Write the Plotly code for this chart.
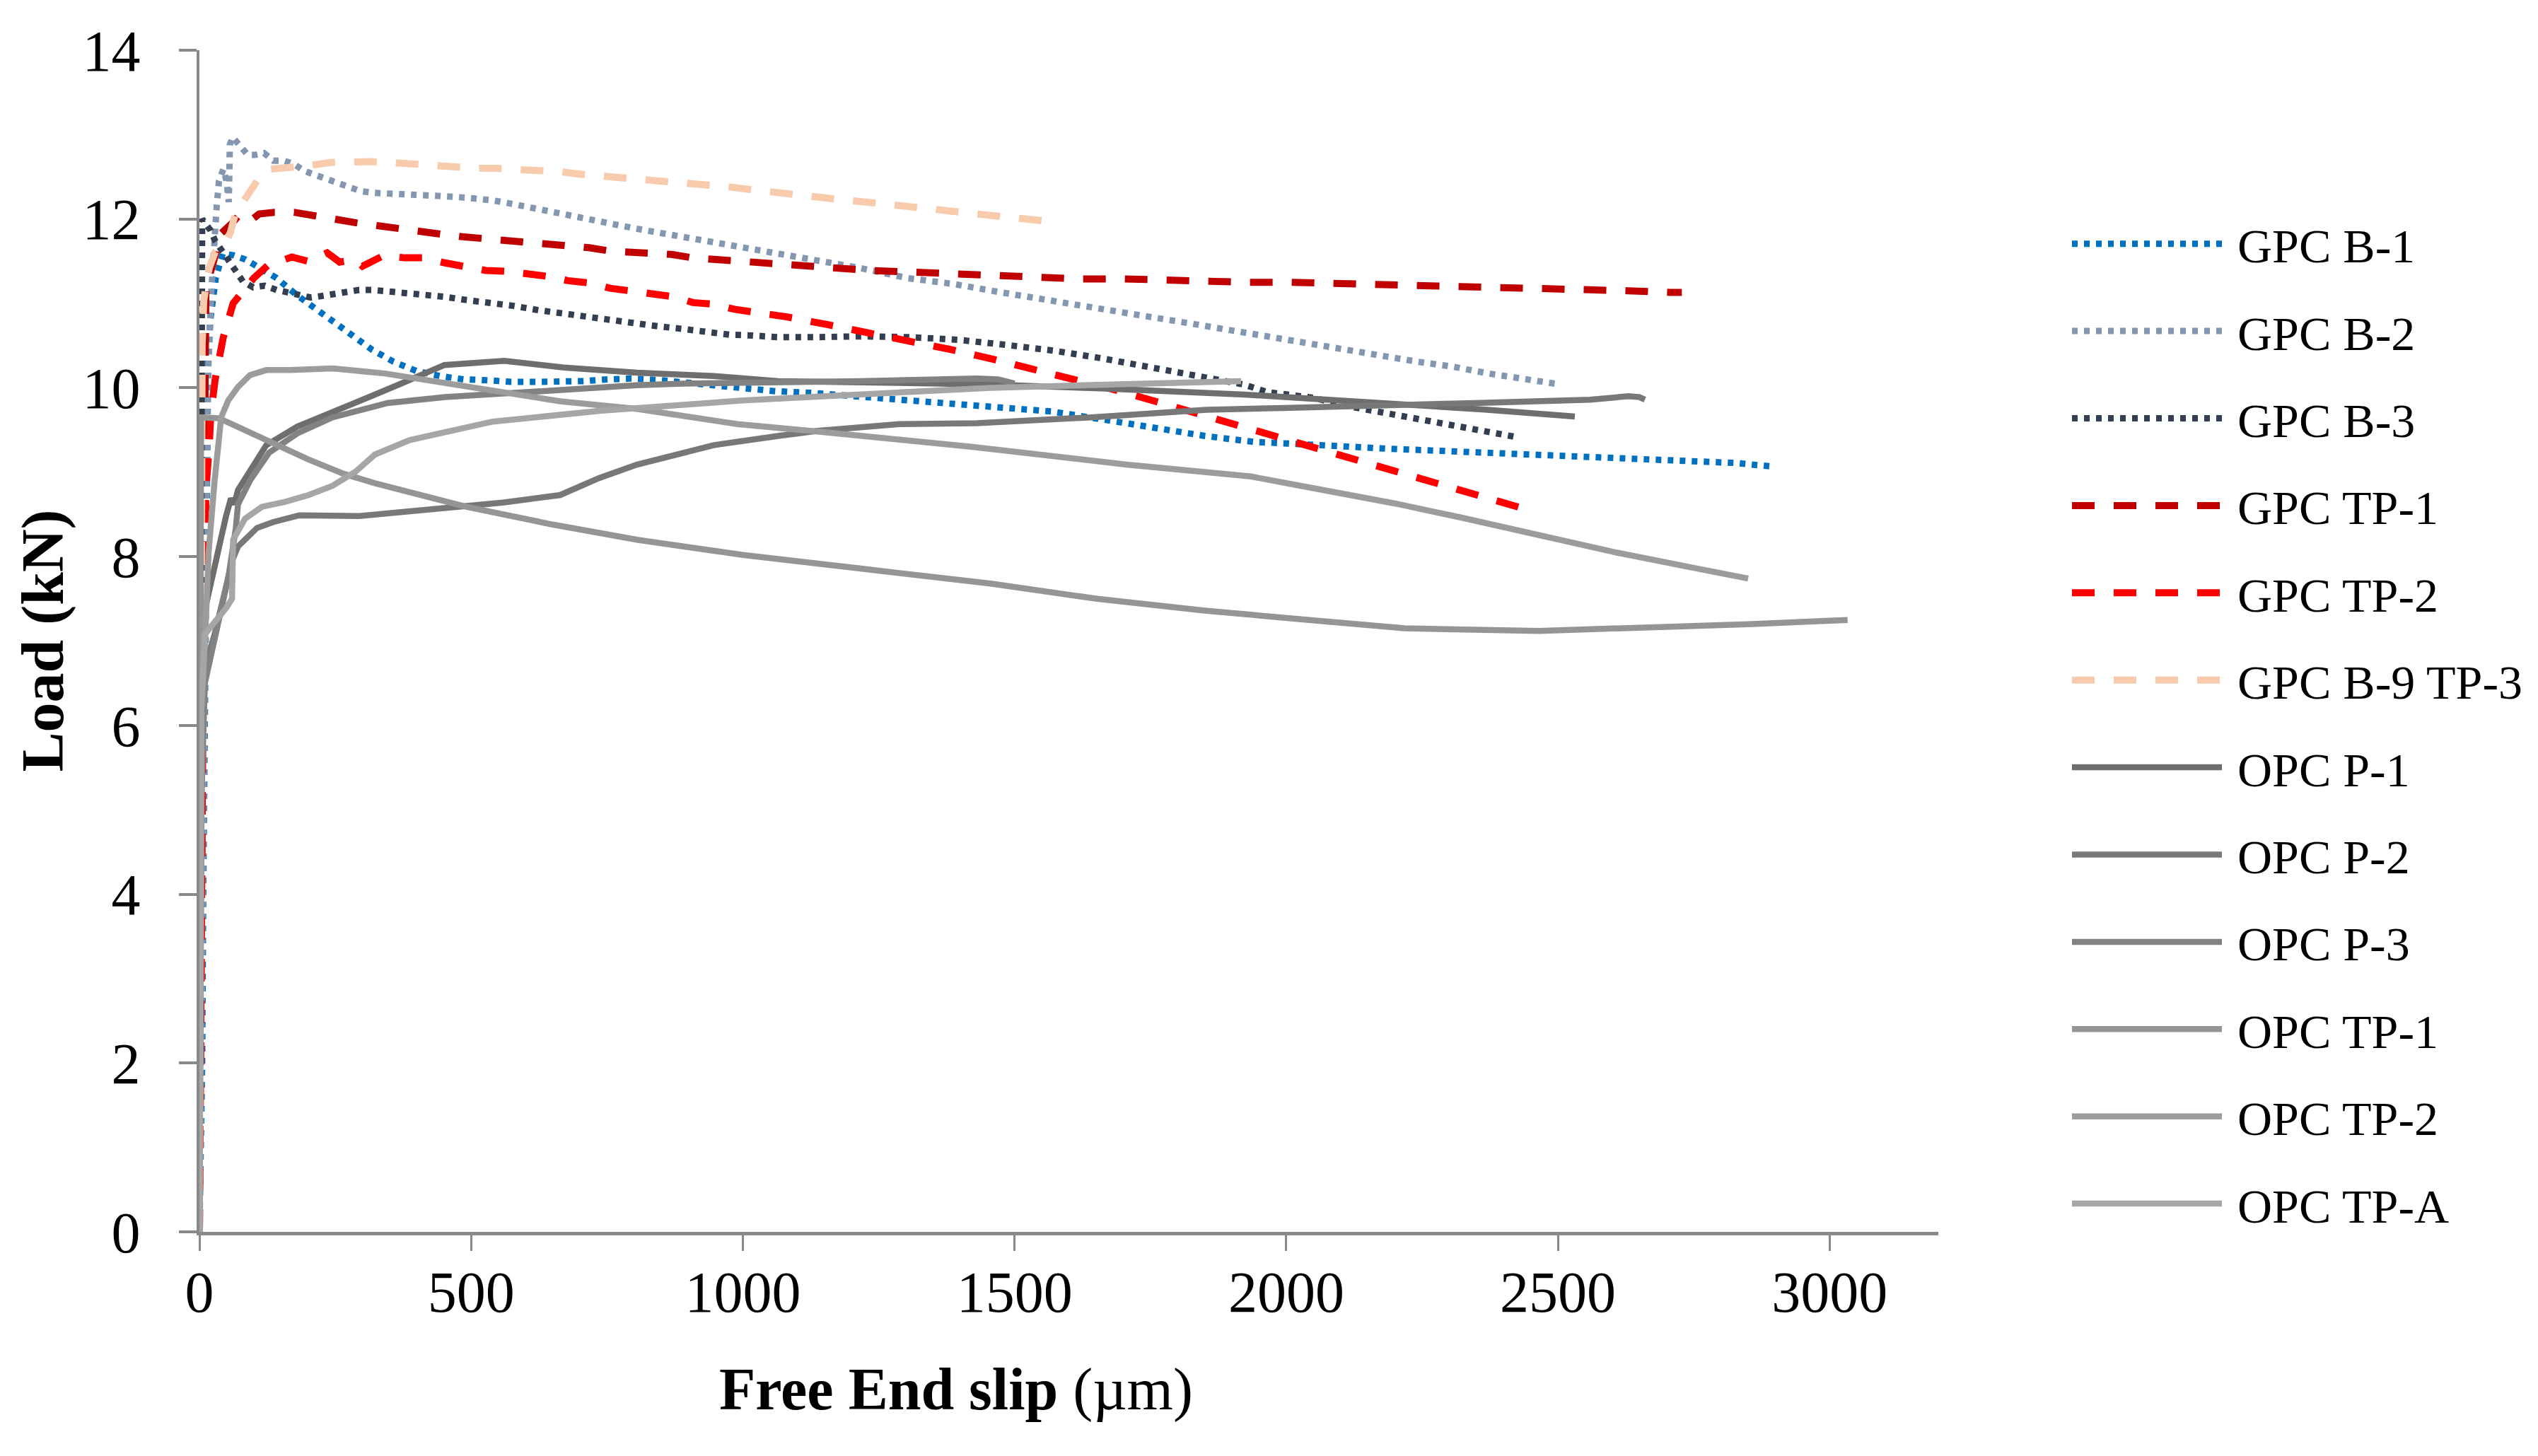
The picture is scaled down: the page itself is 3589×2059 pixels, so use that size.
import plotly.graph_objects as go

# ---------------- data ----------------
gpc_b1_x = [0, 5, 7, 9, 11, 14, 16, 20, 30, 43, 63, 85, 105, 142, 177, 211, 246, 282, 318, 357, 399, 442, 486, 530, 574, 620, 663, 706, 752, 795, 850, 900, 950, 996, 1060, 1127, 1212, 1303, 1392, 1480, 1568, 1677, 1766, 1850, 1939, 2030, 2095, 2183, 2294, 2405, 2516, 2626, 2737, 2825, 2892]
gpc_b1_y = [0, 2, 4, 6, 8, 9.3, 10.3, 10.8, 11.3, 11.59, 11.57, 11.52, 11.45, 11.30, 11.11, 10.95, 10.77, 10.60, 10.45, 10.31, 10.20, 10.14, 10.10, 10.09, 10.07, 10.07, 10.07, 10.08, 10.10, 10.11, 10.09, 10.06, 10.03, 10.01, 9.96, 9.94, 9.90, 9.85, 9.81, 9.77, 9.72, 9.61, 9.51, 9.43, 9.36, 9.32, 9.31, 9.28, 9.25, 9.22, 9.20, 9.17, 9.14, 9.11, 9.07]

gpc_b2_x = [0, 5, 10, 15, 22, 29, 32, 36, 44, 50, 54, 55, 56, 61, 75, 89, 103, 119, 136, 156, 174, 193, 214, 235, 255, 276, 297, 320, 363, 407, 452, 496, 541, 583, 627, 670, 714, 757, 800, 844, 889, 931, 975, 1018, 1063, 1127, 1215, 1303, 1388, 1476, 1565, 1653, 1740, 1826, 1914, 2001, 2044, 2110, 2176, 2241, 2307, 2372, 2438, 2504]
gpc_b2_y = [0, 4, 8, 10, 11.16, 12.0, 12.17, 12.45, 12.59, 12.45, 12.2, 12.5, 12.88, 12.97, 12.87, 12.76, 12.76, 12.78, 12.69, 12.69, 12.65, 12.57, 12.52, 12.47, 12.41, 12.36, 12.33, 12.31, 12.30, 12.29, 12.27, 12.25, 12.22, 12.17, 12.11, 12.06, 12.01, 11.95, 11.89, 11.84, 11.79, 11.73, 11.69, 11.64, 11.59, 11.51, 11.42, 11.30, 11.23, 11.13, 11.03, 10.94, 10.85, 10.76, 10.66, 10.57, 10.52, 10.45, 10.38, 10.31, 10.25, 10.17, 10.10, 10.04]

gpc_b3_x = [0, 1, 2, 3, 5, 20, 29, 43, 55, 66, 80, 99, 120, 142, 163, 184, 205, 228, 250, 272, 294, 317, 338, 361, 404, 449, 492, 536, 579, 624, 667, 711, 754, 798, 843, 886, 931, 975, 1018, 1063, 1131, 1219, 1307, 1395, 1483, 1572, 1660, 1747, 1834, 1921, 1965, 2008, 2051, 2116, 2204, 2290, 2377, 2421]
gpc_b3_y = [0, 5, 10, 11.5, 12.0, 11.87, 11.74, 11.61, 11.49, 11.37, 11.26, 11.19, 11.21, 11.16, 11.13, 11.10, 11.07, 11.09, 11.11, 11.14, 11.16, 11.16, 11.15, 11.14, 11.11, 11.08, 11.04, 11.01, 10.97, 10.92, 10.88, 10.84, 10.80, 10.77, 10.73, 10.70, 10.66, 10.63, 10.62, 10.60, 10.60, 10.61, 10.60, 10.57, 10.51, 10.44, 10.35, 10.25, 10.14, 10.04, 9.95, 9.92, 9.88, 9.78, 9.68, 9.58, 9.47, 9.42]

gpc_tp1_x = [0, 3, 5, 7, 9, 10, 11, 12, 25, 38, 40, 60, 71, 81, 96, 110, 138, 174, 216, 251, 293, 329, 368, 406, 445, 484, 523, 562, 601, 639, 678, 717, 756, 795, 833, 869, 907, 946, 985, 1024, 1063, 1081, 1159, 1236, 1314, 1392, 1468, 1547, 1622, 1701, 1778, 1856, 1933, 2009, 2087, 2165, 2243, 2320, 2398, 2476, 2553, 2629, 2707, 2728]
gpc_tp1_y = [0, 2, 5, 7.5, 8.5, 9.7, 10.5, 11.2, 11.47, 11.75, 11.83, 11.95, 12.03, 11.97, 11.99, 12.06, 12.08, 12.08, 12.03, 11.99, 11.95, 11.92, 11.88, 11.85, 11.82, 11.79, 11.77, 11.74, 11.72, 11.70, 11.67, 11.66, 11.62, 11.61, 11.59, 11.58, 11.54, 11.52, 11.50, 11.49, 11.48, 11.46, 11.43, 11.39, 11.37, 11.34, 11.33, 11.31, 11.29, 11.29, 11.27, 11.26, 11.25, 11.25, 11.24, 11.23, 11.22, 11.21, 11.20, 11.19, 11.17, 11.15, 11.13, 11.13]

gpc_tp2_x = [0, 3, 5, 8, 12, 18, 21, 29, 44, 62, 100, 126, 170, 200, 235, 258, 268, 285, 300, 315, 340, 377, 410, 452, 488, 527, 565, 602, 643, 678, 720, 756, 795, 833, 872, 908, 946, 985, 1024, 1063, 1081, 1155, 1233, 1309, 1385, 1460, 1536, 1610, 1688, 1759, 1833, 1910, 1984, 2055, 2133, 2208, 2282, 2356, 2430, 2447]
gpc_tp2_y = [0, 2, 5, 7.5, 8.8, 9.3, 9.69, 10.1, 10.6, 11.0, 11.30, 11.45, 11.55, 11.50, 11.60, 11.49, 11.50, 11.52, 11.44, 11.49, 11.57, 11.54, 11.54, 11.48, 11.44, 11.39, 11.38, 11.35, 11.32, 11.27, 11.24, 11.18, 11.15, 11.10, 11.08, 11.01, 10.99, 10.93, 10.90, 10.86, 10.84, 10.75, 10.65, 10.56, 10.45, 10.34, 10.22, 10.10, 9.97, 9.84, 9.70, 9.57, 9.43, 9.30, 9.15, 9.00, 8.85, 8.71, 8.57, 8.55]

gpc_tp3_x = [0, 2, 3, 4, 5, 8, 18, 29, 48, 57, 68, 78, 106, 128, 170, 198, 241, 276, 315, 354, 392, 431, 470, 509, 548, 586, 625, 664, 703, 742, 780, 819, 858, 897, 936, 975, 1013, 1088, 1166, 1243, 1321, 1397, 1474, 1550, 1570]
gpc_tp3_y = [0, 4, 8, 9.84, 10.5, 11.04, 11.42, 11.61, 11.71, 11.84, 12.11, 12.18, 12.45, 12.59, 12.61, 12.63, 12.67, 12.68, 12.68, 12.67, 12.65, 12.63, 12.61, 12.60, 12.60, 12.59, 12.57, 12.56, 12.53, 12.51, 12.49, 12.48, 12.44, 12.42, 12.40, 12.38, 12.35, 12.29, 12.24, 12.19, 12.13, 12.09, 12.03, 11.98, 11.97]

opc_p1_x = [0, 2, 3, 8, 28, 49, 58, 64, 71, 93, 123, 180, 223, 288, 323, 371, 451, 561, 671, 805, 946, 1065, 1300, 1457, 1669, 1800, 1923, 2050, 2206, 2370, 2531]
opc_p1_y = [0, 5, 6.8, 7.31, 7.92, 8.48, 8.69, 8.62, 8.79, 9.01, 9.32, 9.54, 9.65, 9.82, 9.92, 10.05, 10.27, 10.32, 10.24, 10.18, 10.14, 10.08, 10.05, 10.04, 9.99, 9.96, 9.92, 9.87, 9.81, 9.74, 9.66]

opc_p2_x = [0, 2, 5, 15, 28, 49, 60, 71, 106, 136, 184, 292, 441, 558, 664, 735, 805, 946, 1065, 1138, 1288, 1430, 1641, 1853, 1994, 2206, 2347, 2559, 2630, 2650, 2660]
opc_p2_y = [0, 4, 6.5, 6.80, 7.08, 7.64, 7.95, 8.12, 8.34, 8.41, 8.49, 8.48, 8.56, 8.64, 8.73, 8.93, 9.09, 9.32, 9.43, 9.49, 9.57, 9.58, 9.65, 9.74, 9.76, 9.79, 9.82, 9.86, 9.90, 9.89, 9.86]

opc_p3_x = [0, 3, 10, 23, 41, 54, 67, 71, 93, 128, 180, 245, 323, 346, 452, 572, 699, 805, 889, 1065, 1217, 1430, 1470, 1500]
opc_p3_y = [0, 5, 6.5, 6.86, 7.36, 7.78, 8.34, 8.62, 8.90, 9.23, 9.46, 9.65, 9.78, 9.82, 9.89, 9.94, 9.98, 10.03, 10.05, 10.06, 10.08, 10.11, 10.10, 10.05]

opc_tp1_x = [0, 1, 3, 36, 53, 93, 136, 201, 266, 323, 491, 650, 805, 1000, 1228, 1456, 1652, 1850, 2042, 2218, 2465, 2677, 2850, 3033]
opc_tp1_y = [0, 5, 9.65, 9.64, 9.59, 9.46, 9.34, 9.15, 8.98, 8.87, 8.59, 8.38, 8.20, 8.02, 7.85, 7.68, 7.50, 7.36, 7.25, 7.15, 7.12, 7.16, 7.20, 7.25]

opc_tp2_x = [0, 2, 4, 10, 17, 28, 40, 53, 71, 93, 123, 167, 201, 245, 341, 491, 664, 805, 990, 1141, 1423, 1706, 1935, 2042, 2200, 2324, 2465, 2606, 2747, 2850]
opc_tp2_y = [0, 4, 6.22, 6.94, 8.06, 8.90, 9.65, 9.85, 10.01, 10.15, 10.21, 10.21, 10.22, 10.23, 10.17, 10.01, 9.84, 9.75, 9.57, 9.48, 9.30, 9.09, 8.95, 8.82, 8.63, 8.46, 8.25, 8.05, 7.87, 7.74]

opc_tpa_x = [0, 1, 3, 10, 28, 49, 60, 62, 84, 115, 158, 201, 245, 288, 323, 387, 540, 740, 1000, 1456, 1917]
opc_tpa_y = [0, 4, 6.22, 7.08, 7.22, 7.39, 7.50, 8.20, 8.45, 8.59, 8.65, 8.73, 8.84, 9.01, 9.21, 9.38, 9.60, 9.73, 9.85, 10.0, 10.08]

series_names = ["GPC B-1", "GPC B-2", "GPC B-3", "GPC TP-1", "GPC TP-2", "GPC B-9 TP-3",
                "OPC P-1", "OPC P-2", "OPC P-3", "OPC TP-1", "OPC TP-2", "OPC TP-A"]
series_x = [gpc_b1_x, gpc_b2_x, gpc_b3_x, gpc_tp1_x, gpc_tp2_x, gpc_tp3_x,
            opc_p1_x, opc_p2_x, opc_p3_x, opc_tp1_x, opc_tp2_x, opc_tpa_x]
series_y = [gpc_b1_y, gpc_b2_y, gpc_b3_y, gpc_tp1_y, gpc_tp2_y, gpc_tp3_y,
            opc_p1_y, opc_p2_y, opc_p3_y, opc_tp1_y, opc_tp2_y, opc_tpa_y]

x_ticks = [0, 500, 1000, 1500, 2000, 2500, 3000]
y_ticks = [0, 2, 4, 6, 8, 10, 12, 14]

# ---------------- styles ----------------
colors = ["#0070C0", "#8497B0", "#333F50", "#C00000", "#FF0000", "#F8CBAD",
          "#6E6E6E", "#787878", "#828282", "#959595", "#9C9C9C", "#A6A6A6"]
dashes = ["8px,9px"] * 3 + ["32px,27px"] * 3 + ["solid"] * 6
widths = [9, 9, 9, 10, 10, 10, 8.5, 8.5, 8.5, 8.5, 8.5, 8.5]

FONT = "Liberation Serif, Times New Roman, serif"
NBSP = "\u00a0"

fig = go.Figure()
for i, name in enumerate(series_names):
    fig.add_trace(go.Scatter(
        x=series_x[i], y=series_y[i], name=NBSP + name, mode="lines",
        line=dict(color=colors[i], width=widths[i], dash=dashes[i]),
        legendgroup=name,
    ))

W, H = 3589, 2059
L, R, T, B = 282, 2741, 71, 1742

fig.update_layout(
    width=W, height=H,
    margin=dict(l=L, r=W - R, t=T, b=H - B, pad=0),
    paper_bgcolor="white", plot_bgcolor="white",
    font=dict(family=FONT, color="black"),
    showlegend=True,
    legend=dict(
        xref="container", yref="container",
        x=2925 / W, y=1 - 294 / H, xanchor="left", yanchor="top",
        font=dict(family=FONT, size=68, color="black"),
        itemwidth=212, tracegroupgap=32, maxheight=1900,
        bgcolor="rgba(0,0,0,0)",
    ),
    xaxis=dict(
        range=[0, 3200], tickvals=x_ticks, ticktext=[str(v) for v in x_ticks],
        showgrid=False, zeroline=False,
        showline=True, linecolor="#898989", linewidth=5,
        ticks="outside", ticklen=22, tickwidth=3, tickcolor="#898989",
        tickfont=dict(family=FONT, size=82, color="black"),
        ticklabelstandoff=-12,
    ),
    yaxis=dict(
        range=[0, 14], tickvals=y_ticks, ticktext=[str(v) for v in y_ticks],
        showgrid=False, zeroline=False,
        showline=True, linecolor="#898989", linewidth=4,
        ticks="outside", ticklen=25, tickwidth=4, tickcolor="#898989",
        tickfont=dict(family=FONT, size=82, color="black"),
        ticklabelstandoff=38,
    ),
    annotations=[
        dict(text="<b>Free End slip</b> (µm)", xref="paper", yref="paper",
             x=(1352 - L) / (R - L), y=0, xanchor="center", yanchor="middle",
             yshift=-(1965 - B), showarrow=False,
             font=dict(family=FONT, size=84, color="black")),
        dict(text="<b>Load (kN)</b>", xref="paper", yref="paper",
             x=0, y=0.5, xanchor="center", yanchor="middle",
             xshift=-(L - 60), textangle=-90, showarrow=False,
             font=dict(family=FONT, size=84, color="black")),
    ],
)

fig.write_html("out.html", config={"displayModeBar": False},
               post_script="document.body.style.margin='0px';")
